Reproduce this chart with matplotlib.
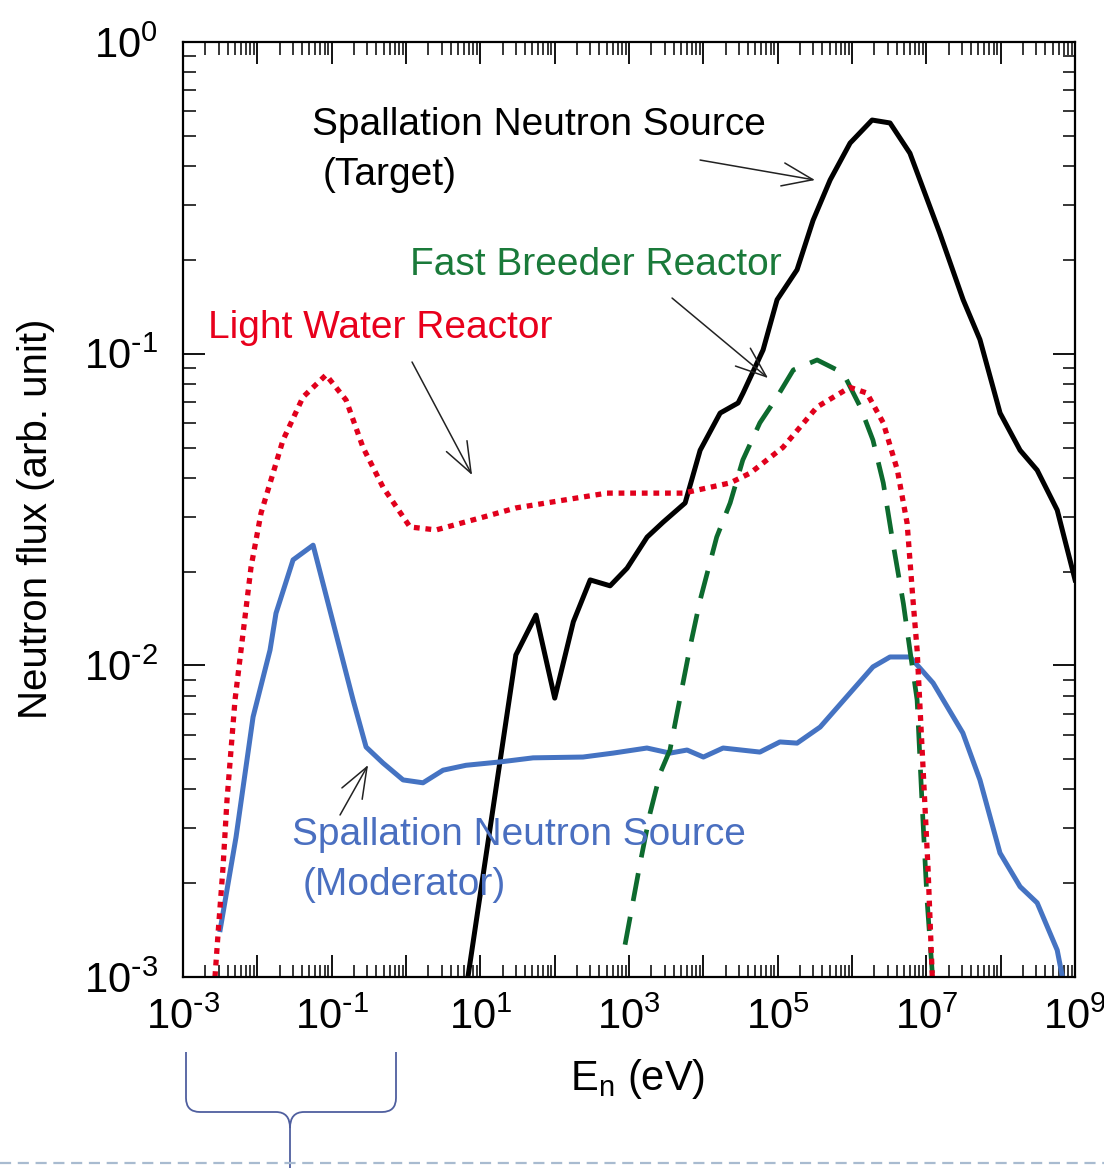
import numpy as np
import matplotlib.pyplot as plt
from matplotlib.path import Path
from matplotlib.patches import PathPatch
from matplotlib.lines import Line2D
from matplotlib.ticker import LogLocator, FuncFormatter

plt.rcParams['font.family'] = ['Liberation Sans', 'DejaVu Sans']
plt.rcParams['mathtext.default'] = 'regular'

# Spallation neutron source (target)
target_e = [6.8, 30, 56, 100, 178, 300, 556, 940, 1750, 2870, 5680, 9040,
            16800, 29300, 34200, 63500, 98000, 182000, 299000, 507000, 940000,
            1.86e6, 3.24e6, 6.0e6, 1.51e7, 3.12e7, 5.25e7, 9.8e7, 1.82e8,
            3.09e8, 5.75e8, 1e9]
target_flux = [0.001, 0.0108, 0.0145, 0.00785, 0.0138, 0.0188, 0.018, 0.0205,
               0.0258, 0.0288, 0.0332, 0.049, 0.0645, 0.0695, 0.0748, 0.1028,
               0.149, 0.186, 0.268, 0.361, 0.474, 0.562, 0.550, 0.44, 0.244,
               0.149, 0.111, 0.0645, 0.049, 0.0423, 0.0315, 0.0188]

# Light water reactor
lwr_e = [0.00269, 0.00296, 0.00345, 0.0039, 0.005, 0.00822, 0.0112, 0.0221,
         0.0411, 0.0839, 0.156, 0.264, 0.49, 1.13, 2.54, 10.9, 30, 240, 500,
         5370, 22900, 42700, 117000, 339000, 933000, 1.58e6, 2.63e6, 4.07e6,
         5.5e6, 6.6e6, 7.5e6, 9.0e6, 1.05e7, 1.2e7]
lwr_flux = [0.001, 0.00138, 0.00225, 0.00369, 0.00774, 0.0207, 0.0308, 0.0528,
            0.0726, 0.0855, 0.071, 0.050, 0.0373, 0.0278, 0.0272, 0.0299,
            0.032, 0.0347, 0.0357, 0.0357, 0.0385, 0.0414, 0.050, 0.0675,
            0.078, 0.0748, 0.060, 0.0423, 0.0286, 0.0162, 0.0112, 0.00472,
            0.00225, 0.00100]

# Fast breeder reactor
fbr_e = [883, 1410, 1920, 2630, 3550, 4430, 6610, 9040, 15100, 22900, 33900,
         57500, 97700, 162000, 339000, 759000, 1.29e6, 1.91e6, 2.63e6, 3.55e6,
         4.9e6, 6.0e6, 7.5e6, 8.7e6, 1.02e7, 1.2e7]
fbr_flux = [0.00127, 0.00232, 0.00336, 0.00452, 0.00535, 0.00703, 0.01145,
            0.0162, 0.0258, 0.0332, 0.0456, 0.060, 0.0726, 0.0887, 0.0955,
            0.0867, 0.0675, 0.0528, 0.0385, 0.0247, 0.0158, 0.0112, 0.00774,
            0.0037, 0.00177, 0.00103]

# Spallation neutron source (moderator)
mod_e = [0.00316, 0.00516, 0.00875, 0.0148, 0.0178, 0.0302, 0.0562, 0.194,
         0.29, 0.49, 0.912, 1.69, 3.15, 6.41, 18.4, 51.2, 240, 610, 1740,
         3550, 6030, 10000, 18400, 57500, 107000, 182000, 372000, 851000,
         1.91e6, 3.24e6, 6.03e6, 1.23e7, 3.09e7, 5.25e7, 9.77e7, 1.82e8,
         3.09e8, 5.75e8, 6.76e8]
mod_flux = [0.00142, 0.00281, 0.00683, 0.0112, 0.0147, 0.0218, 0.0243,
            0.00774, 0.00547, 0.00486, 0.00429, 0.0042, 0.00461, 0.00478,
            0.0049, 0.00505, 0.00508, 0.00523, 0.00543, 0.00523, 0.00535,
            0.00508, 0.00543, 0.00527, 0.00568, 0.00563, 0.00634, 0.00794,
            0.00989, 0.01064, 0.01064, 0.00878, 0.00607, 0.00429, 0.0025,
            0.00195, 0.00173, 0.00122, 0.001]

fig = plt.figure(figsize=(11.04, 11.68), dpi=100)
ax = fig.add_axes([0.1658, 0.1635, 0.808, 0.8005])

ax.plot(target_e, target_flux, color='black', lw=3.6)
ax.plot(mod_e, mod_flux, color='#4573c2', lw=3.6)
ax.plot(fbr_e, fbr_flux, color='#0d6a2e', lw=3.4, linestyle=(0, (6.0, 3.4)))
ax.plot(lwr_e, lwr_flux, color='#e1001c', lw=3.8, linestyle=(0, (1.1, 1.1)),
        dash_capstyle='butt')

ax.set_xscale('log')
ax.set_yscale('log')
ax.set_xlim(1e-3, 1e9)
ax.set_ylim(1e-3, 1)

ax.xaxis.set_major_locator(LogLocator(base=10, numticks=20))
ax.xaxis.set_minor_locator(LogLocator(base=10, subs=np.arange(2, 10), numticks=20))
ax.yaxis.set_major_locator(LogLocator(base=10, numticks=10))
ax.yaxis.set_minor_locator(LogLocator(base=10, subs=np.arange(2, 10), numticks=10))


def decade_label(k):
    # hyphen instead of the math minus, as in the original figure
    exp = r'\text{-}%d' % -k if k < 0 else '%d' % k
    return '$10^{%s}$' % exp


def odd_decades(v, pos):
    k = int(round(np.log10(v)))
    return decade_label(k) if k % 2 else ''


ax.xaxis.set_major_formatter(FuncFormatter(odd_decades))
ax.yaxis.set_major_formatter(FuncFormatter(lambda v, p: decade_label(int(round(np.log10(v))))))

ax.tick_params(which='major', direction='in', length=16, width=1.3,
               top=True, right=True, labelsize=30)
ax.tick_params(which='minor', direction='in', length=9, width=1.1,
               top=True, right=True)
ax.tick_params(axis='x', which='major', pad=15)
ax.tick_params(axis='y', which='major', pad=18)
for s in ax.spines.values():
    s.set_linewidth(1.6)

ax.set_xlabel('E$_n$ (eV)', fontsize=30)
ax.xaxis.set_label_coords(0.509, -0.085)
ax.set_ylabel('Neutron flux (arb. unit)', fontsize=29)
ax.yaxis.set_label_coords(-0.143, 0.49)

# curve labels
fs = 28
ax.text(0.1446, 0.9112, 'Spallation Neutron Source', transform=ax.transAxes,
        fontsize=fs, color='black', va='center')
ax.text(0.156, 0.8578, '(Target)', transform=ax.transAxes,
        fontsize=fs, color='black', va='center')
ax.text(0.2545, 0.7615, 'Fast Breeder Reactor', transform=ax.transAxes,
        fontsize=fs, color='#1a7a3a', va='center')
ax.text(0.028, 0.694, 'Light Water Reactor', transform=ax.transAxes,
        fontsize=fs, color='#e8001c', va='center')
ax.text(0.1222, 0.1519, 'Spallation Neutron Source', transform=ax.transAxes,
        fontsize=fs, color='#4a6fc0', va='center')
ax.text(0.1345, 0.0984, '(Moderator)', transform=ax.transAxes,
        fontsize=fs, color='#4a6fc0', va='center')

arrows = [((0.5796, 0.8738), (0.7085, 0.8524)),
          ((0.5482, 0.7262), (0.6558, 0.6406)),
          ((0.2567, 0.6578), (0.324, 0.5369)),
          ((0.176, 0.1733), (0.2074, 0.2267))]
for tail, head in arrows:
    ax.annotate('', xy=head, xytext=tail, xycoords='axes fraction',
                arrowprops=dict(arrowstyle='->,head_length=1.0,head_width=0.38',
                                lw=1.1, color='#222222', mutation_scale=22,
                                shrinkA=0, shrinkB=0))

# brace under the thermal range and the slide separator


def px(x, y):
    return (x / 1104, 1 - y / 1168)


brace = [px(186, 1052), px(186, 1098), px(186, 1112), px(200, 1112),
         px(276, 1112), px(290, 1112), px(290, 1128), px(290, 1168),
         px(290, 1128), px(290, 1112), px(304, 1112), px(382, 1112),
         px(396, 1112), px(396, 1098), px(396, 1052)]
codes = [Path.MOVETO, Path.LINETO, Path.CURVE3, Path.CURVE3, Path.LINETO,
         Path.CURVE3, Path.CURVE3, Path.LINETO, Path.MOVETO, Path.CURVE3,
         Path.CURVE3, Path.LINETO, Path.CURVE3, Path.CURVE3, Path.LINETO]
fig.add_artist(PathPatch(Path(brace, codes), transform=fig.transFigure,
                         fill=False, edgecolor='#4f5f9f', lw=1.3))
fig.add_artist(Line2D([0, 1], [0.0043, 0.0043], transform=fig.transFigure,
                      color='#a8bbd0', lw=1.6, linestyle=(0, (5, 3))))

fig.savefig('out.png', dpi=100)
